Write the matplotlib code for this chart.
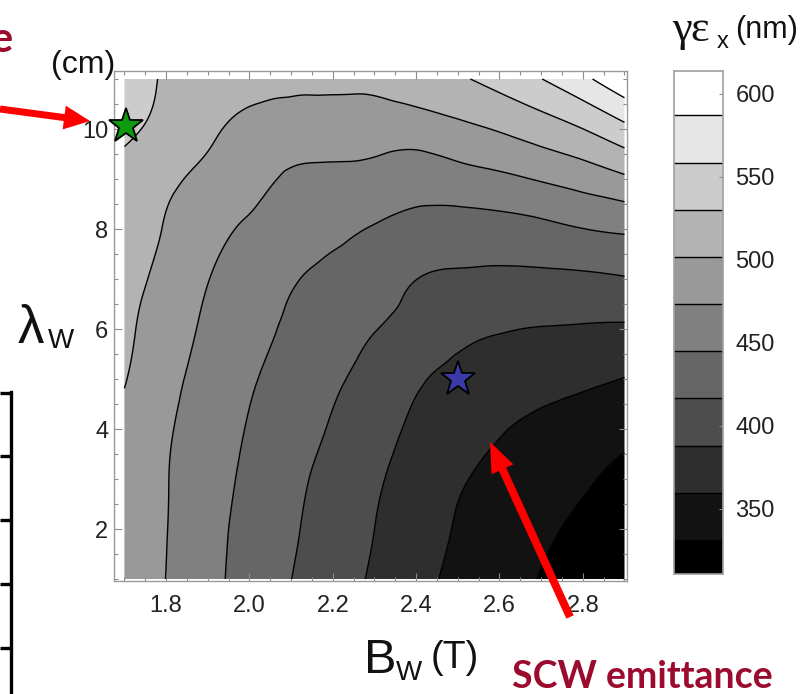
import numpy as np
import matplotlib
matplotlib.use("Agg")
import matplotlib.pyplot as plt
import matplotlib.tri as mtri
from matplotlib import font_manager
from matplotlib.patches import FancyArrow
from matplotlib.lines import Line2D
from matplotlib.ticker import MultipleLocator

# ---------------- data ----------------
B_vals = [1.7, 1.8, 1.9, 2.0, 2.1, 2.2, 2.3, 2.4, 2.5, 2.6, 2.7, 2.8, 2.9]      # T
lam_vals = [1, 2, 3, 4, 5, 6, 7, 8, 9, 10, 11]                                  # cm
# emittance (nm) rows: one row per lambda value, columns follow B_vals
emit_lam1 = [490, 473, 452.9, 434.4, 417, 400.7, 384.3, 367.7, 353.7, 342, 330.3, 320, 311]
emit_lam2 = [490, 474, 454.2, 436.5, 420.3, 404.1, 388, 372.3, 357.7, 347.2, 336.7, 326, 316]
emit_lam3 = [492, 474.5, 456.6, 439.3, 423.5, 407.5, 391.5, 376.9, 362.7, 352.8, 343.8, 334.9, 324]
emit_lam4 = [495, 476.4, 459.6, 443.1, 428.8, 414.1, 397.8, 383.7, 372.9, 362.2, 352, 346, 340]
emit_lam5 = [503, 481.4, 463.5, 447.8, 434.3, 421.2, 406.8, 391.9, 381, 377.3, 371.1, 364.9, 359]
emit_lam6 = [507, 487.1, 468.7, 454.0, 440.5, 429.0, 417.5, 408.7, 396, 389.5, 387, 385.5, 384]
emit_lam7 = [510.5, 493.5, 474, 460.7, 447.6, 437, 427, 417, 413, 411, 411, 412, 415]
emit_lam8 = [515, 499.9, 483, 469.5, 460.8, 452, 443, 436, 433, 434, 438, 444.5, 449]
emit_lam9 = [520, 507, 494.4, 481.8, 470, 467, 463.6, 457, 461.7, 467.6, 475.5, 484.7, 496.7]
emit_lam10 = [536, 521.6, 507.6, 492.7, 488.5, 487.4, 485.7, 486.8, 495, 503.8, 515.6, 530, 551]
emit_lam11 = [545, 527, 518, 517, 507.5, 508, 508.7, 520.6, 527, 540.7, 558, 580.9, 610]

contour_levels = [331.5, 359.7, 388.0, 416.8, 444.9, 473.3, 501.6, 530.2, 558.5, 587.3]
band_grays = [0.0, 0.07, 0.18, 0.30, 0.40, 0.50, 0.60, 0.70, 0.80, 0.90, 1.0]
cbar_range = [310.8, 613.8]
cbar_ticks = [350, 400, 450, 500, 550, 600]

x_ticks = [1.8, 2.0, 2.2, 2.4, 2.6, 2.8]
y_ticks = [2, 4, 6, 8, 10]

green_star = (1.704, 10.06)
blue_star = (2.5, 5.01)

# ---------------- fonts ----------------
avail = {f.name for f in font_manager.fontManager.ttflist}
SANS = "Liberation Sans"
NARROW = "Liberation Sans Narrow" if "Liberation Sans Narrow" in avail else SANS
SERIF = "Liberation Serif" if "Liberation Serif" in avail else "DejaVu Serif"
RED_FONT = "Lato" if "Lato" in avail else "DejaVu Sans"

W, H = 805, 694
fig = plt.figure(figsize=(W / 100, H / 100), dpi=100)


def fx(px):
    return px / W


def fy(py):
    return 1 - py / H


# ---------------- main contour axes ----------------
ax = fig.add_axes([fx(114), fy(581), fx(627) - fx(114), fy(71) - fy(581)])
ax.set_xlim(1.675, 2.906)
ax.set_ylim(0.96, 11.16)

Z = np.array([emit_lam1, emit_lam2, emit_lam3, emit_lam4, emit_lam5, emit_lam6,
              emit_lam7, emit_lam8, emit_lam9, emit_lam10, emit_lam11], dtype=float)
Bg, Lg = np.meshgrid(np.asarray(B_vals), np.asarray(lam_vals, dtype=float))
# triangulate in grid-index space (nearly isotropic on screen), then map back
U = (Bg - B_vals[0]) / (B_vals[1] - B_vals[0])
V = Lg - lam_vals[0]
tri_uv = mtri.Triangulation(U.ravel(), V.ravel())
interp = mtri.CubicTriInterpolator(tri_uv, Z.ravel(), kind="min_E")
refiner = mtri.UniformTriRefiner(tri_uv)
tri_f, z_f = refiner.refine_field(Z.ravel(), triinterpolator=interp, subdiv=4)
tri_B = mtri.Triangulation(B_vals[0] + tri_f.x * (B_vals[1] - B_vals[0]),
                           lam_vals[0] + tri_f.y, tri_f.triangles)

fill_levels = [-1e4] + contour_levels + [1e4]
ax.tricontourf(tri_B, z_f, levels=fill_levels,
               colors=[str(g) for g in band_grays], antialiased=True)
ax.tricontour(tri_B, z_f, levels=contour_levels, colors="k", linewidths=1.0)

ax.plot(*green_star, marker="*", ms=26, mfc="#0e9a0e", mec="k", mew=1.3,
        clip_on=False, zorder=5)
ax.plot(*blue_star, marker="*", ms=26, mfc="#3a3aa8", mec="k", mew=1.3,
        clip_on=False, zorder=5)

ax.set_xticks(x_ticks)
ax.set_xticklabels([f"{v:.1f}" for v in x_ticks])
ax.set_yticks(y_ticks)
ax.set_yticklabels([str(v) for v in y_ticks])
ax.xaxis.set_minor_locator(MultipleLocator(0.05))
ax.yaxis.set_minor_locator(MultipleLocator(0.5))
ax.tick_params(which="both", direction="in", top=True, right=True, color="#8c8c8c", width=0.8)
ax.tick_params(which="major", length=6)
ax.tick_params(which="minor", length=3)
ax.tick_params(axis="x", which="major", pad=10)
ax.tick_params(axis="y", which="major", pad=4)
for lab in ax.get_xticklabels() + ax.get_yticklabels():
    lab.set_fontfamily(SANS)
    lab.set_fontsize(17)
    lab.set_color("#222222")
for s in ax.spines.values():
    s.set_color("#9a9a9a")
    s.set_linewidth(1.0)

# ---------------- colour bar (drawn from the same levels/grays) ----------------
cax = fig.add_axes([fx(674), fy(574), fx(723) - fx(674), fy(71) - fy(574)])
bounds = [cbar_range[0]] + contour_levels + [cbar_range[1]]
for i, g in enumerate(band_grays):
    cax.axhspan(bounds[i], bounds[i + 1], color=str(g), lw=0)
for lv in contour_levels:
    cax.axhline(lv, color="k", lw=1.0)
cax.set_ylim(*cbar_range)
cax.set_xlim(0, 1)
cax.set_xticks([])
cax.yaxis.tick_right()
cax.set_yticks(cbar_ticks)
cax.set_yticklabels([str(v) for v in cbar_ticks])
cax.tick_params(axis="y", direction="in", length=3, color="#8c8c8c", pad=9)
for lab in cax.get_yticklabels():
    lab.set_fontfamily(SANS)
    lab.set_fontsize(17)
    lab.set_color("#222222")
for s in cax.spines.values():
    s.set_color("#a0a0a0")
    s.set_linewidth(1.2)

# ---------------- overlay (pixel coordinates) ----------------
ov = fig.add_axes([0, 0, 1, 1], zorder=10)
ov.set_xlim(0, W)
ov.set_ylim(H, 0)
ov.axis("off")
ov.patch.set_alpha(0)

# axis labels
ov.text(83, 65, "(cm)", family=NARROW, fontsize=23, ha="center", va="center", color="#111")
ov.text(31, 343, "λ", family=NARROW, fontsize=38, ha="center", va="baseline", color="#111")
ov.text(61, 348, "W", family=NARROW, fontsize=20, ha="center", va="baseline", color="#111")
ov.text(380, 673, "B", family=NARROW, fontsize=35, ha="center", va="baseline", color="#111")
ov.text(409, 680, "W", family=NARROW, fontsize=20, ha="center", va="baseline", color="#111")
ov.text(431, 658, "(T)", family=NARROW, fontsize=27, ha="left", va="center", color="#111")

# colour bar title
ov.text(672, 41, "γε", family=SERIF, fontsize=32, ha="left", va="baseline", color="#111")
ov.text(717, 48, "x", family=NARROW, fontsize=17, ha="left", va="baseline", color="#111")
ov.text(767, 30, "(nm)", family=NARROW, fontsize=22, ha="center", va="center", color="#111")

# red annotations
red_txt = "#9b0b2e"
ov.text(512, 688, "SCW emittance", family=RED_FONT, fontweight="bold", fontsize=27,
        ha="left", va="baseline", color=red_txt)
ov.text(13, 52, "e", family=RED_FONT, fontweight="bold", fontsize=30,
        ha="right", va="baseline", color=red_txt)

ov.add_patch(FancyArrow(0, 109, 90, 12, width=7, head_width=24, head_length=26,
                        length_includes_head=True, color="#ff0000", lw=0))
ov.add_patch(FancyArrow(570, 617, -80, -175, width=8, head_width=24, head_length=30,
                        length_includes_head=True, color="#ff0000", lw=0))

# cropped table on the left
ov.add_line(Line2D([11, 11], [392, 694], color="k", lw=2.4))
for yy in [393, 456, 520, 584, 648]:
    ov.add_line(Line2D([0, 11], [yy, yy], color="k", lw=2.4, solid_capstyle="butt"))

fig.savefig("out.png", dpi=100)
